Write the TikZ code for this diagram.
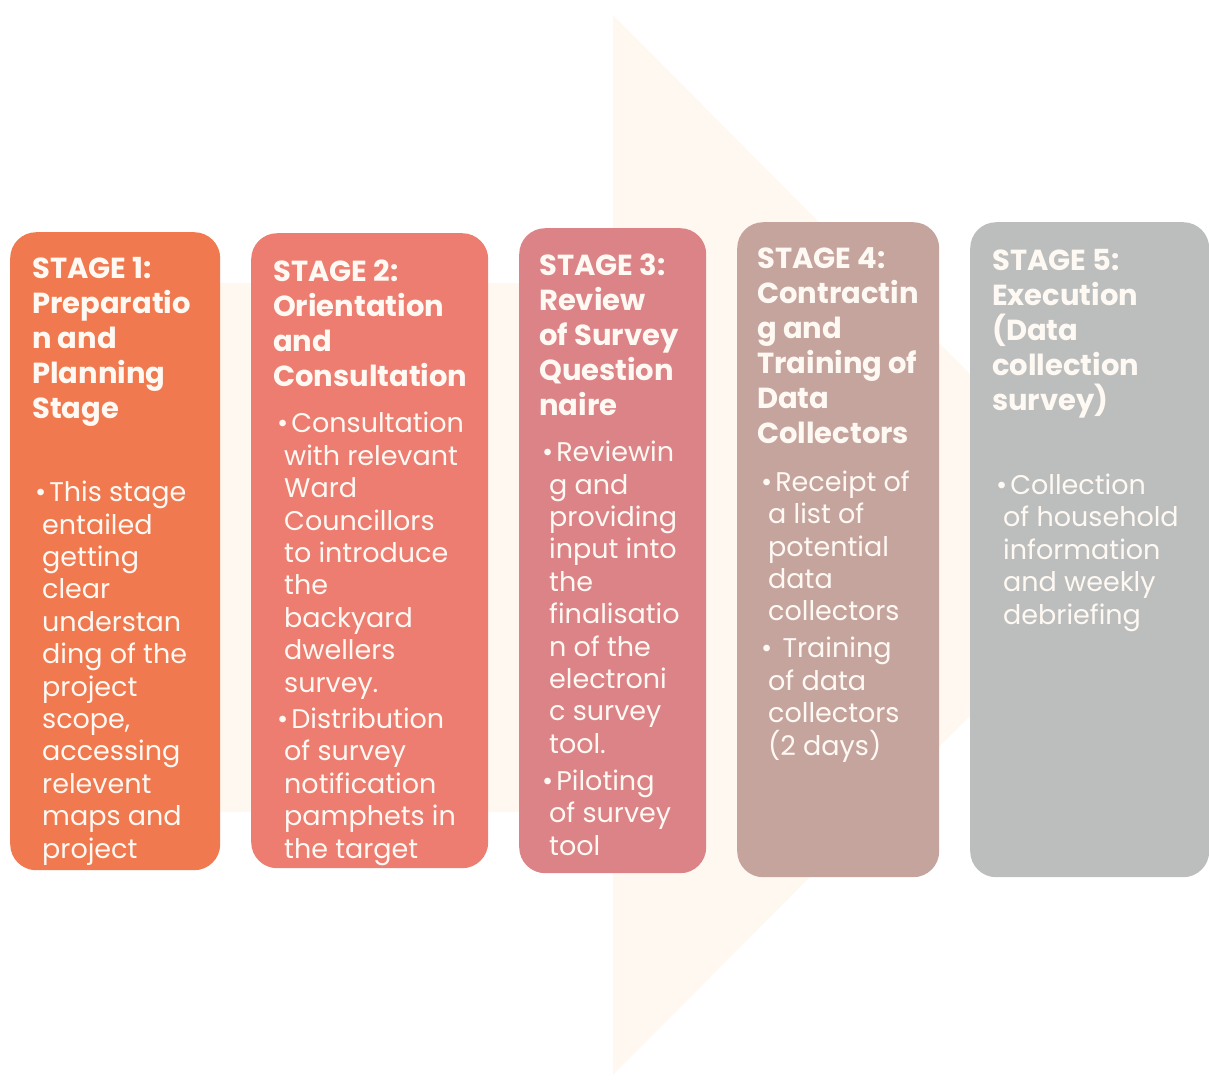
\documentclass[tikz,border=0pt]{standalone}
\usepackage{fontspec}
\setmainfont{Poppins}

\definecolor{stageA}{RGB}{240,121,79}
\definecolor{stageB}{RGB}{236,125,112}
\definecolor{stageC}{RGB}{219,131,134}
\definecolor{stageD}{RGB}{198,164,158}
\definecolor{stageE}{RGB}{188,190,189}
\definecolor{flowbg}{RGB}{254,248,241}
\definecolor{inktext}{RGB}{255,249,244}

\tikzset{
  stagebox/.style={rounded corners=26pt, fill=#1, draw=none, inner sep=0pt, anchor=north west},
  % text nodes sit on the baseline of their last line
  stagetitle/.style={anchor=base west, inner sep=0pt, align=left, text=inktext,
    font=\fontsize{29}{35}\selectfont\bfseries},
  stagetext/.style={anchor=base west, inner sep=0pt, align=left, text=inktext,
    font=\fontsize{27}{32.4}\selectfont}
}
\newcommand{\bul}{\hspace*{-7pt}\textbullet\hspace{3pt}}

\begin{document}
\begin{tikzpicture}[x=1pt,y=-1pt]
  \useasboundingbox (0,0) rectangle (1209,1079);
  % faint flow arrow behind the stages
  \fill[flowbg] (20,283) -- (613,283) -- (613,15) -- (1140,545) -- (613,1075) -- (613,812) -- (20,812) -- cycle;

  \node[stagebox=stageA, minimum width=210pt, minimum height=638pt] (s1) at (10,232) {};
  \node[stagebox=stageB, minimum width=237pt, minimum height=635pt] (s2) at (251,233) {};
  \node[stagebox=stageC, minimum width=187pt, minimum height=645pt] (s3) at (519,228) {};
  \node[stagebox=stageD, minimum width=202pt, minimum height=655pt] (s4) at (737,222) {};
  \node[stagebox=stageE, minimum width=239pt, minimum height=655pt] (s5) at (970,222) {};

  \node[stagetitle] (t1) at (32,418) {STAGE 1:\\Preparatio\\n and\\Planning\\Stage};
  \node[stagetext] (b1) at (42,858) {\bul This stage\\entailed\\getting\\clear\\understan\\ding of the\\project\\scope,\\accessing\\relevent\\maps and\\project};

  \node[stagetitle] (t2) at (273,386) {STAGE 2:\\Orientation\\and\\Consultation};
  \node[stagetext] (b2) at (284,858) {\bul Consultation\\with relevant\\Ward\\Councillors\\to introduce\\the\\backyard\\dwellers\\survey.\\[4pt]\bul Distribution\\of survey\\notification\\pamphets in\\the target};

  \node[stagetitle] (t3) at (539,415) {STAGE 3:\\Review\\of Survey\\Question\\naire};
  \node[stagetext] (b3) at (549,855) {\bul Reviewin\\g and\\providing\\input into\\the\\finalisatio\\n of the\\electroni\\c survey\\tool.\\[4.5pt]\bul Piloting\\of survey\\tool};

  \node[stagetitle] (t4) at (757,443) {STAGE 4:\\Contractin\\g and\\Training of\\Data\\Collectors};
  \node[stagetext] (b4) at (768,755) {\bul Receipt of\\a list of\\potential\\data\\collectors\\[4.5pt]\bul\ Training\\of data\\collectors\\(2 days)};

  \node[stagetitle] (t5) at (992,410) {STAGE 5:\\Execution\\(Data\\collection\\survey)};
  \node[stagetext] (b5) at (1003,624) {\bul Collection\\of household\\information\\and weekly\\debriefing};
\end{tikzpicture}
\end{document}
